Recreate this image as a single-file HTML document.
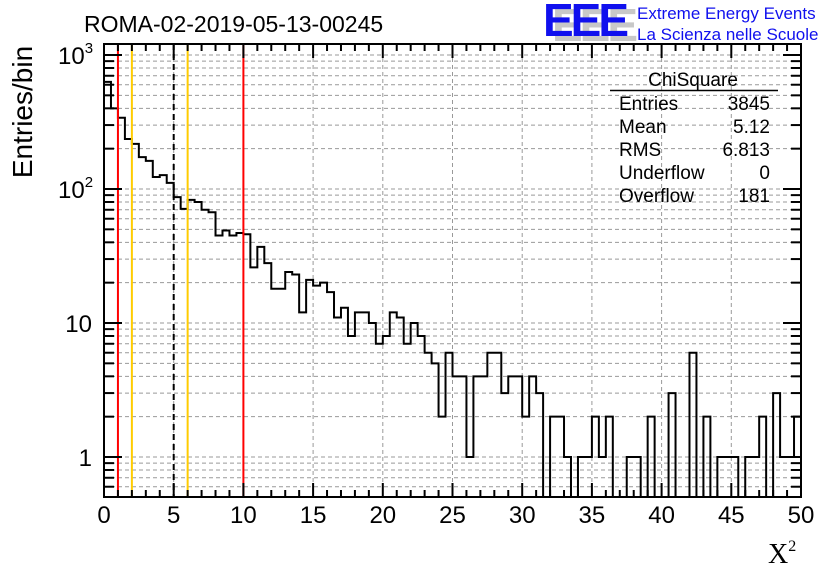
<!DOCTYPE html>
<html><head><meta charset="utf-8"><style>
body{margin:0;background:#fff}
svg{display:block;font-family:"Liberation Sans",Arial,sans-serif}
</style></head><body>
<svg id="c" width="836" height="572" xmlns="http://www.w3.org/2000/svg">
<rect width="836" height="572" fill="#fff"/>
<g id="grid"></g>
<g id="marks"></g>
<g id="axes"></g>
<text x="84" y="32" font-size="23">ROMA-02-2019-05-13-00245</text>
<g>
<text x="552" y="41" font-size="46" font-weight="bold" fill="#c8c8c8" letter-spacing="-3">EEE</text>
<text x="543" y="36" font-size="46" font-weight="bold" fill="#1010ee" letter-spacing="-3">EEE</text>
<text x="637" y="19" font-size="17" fill="#1010ee">Extreme Energy Events</text>
<text x="637" y="40" font-size="17" fill="#1010ee">La Scienza nelle Scuole</text>
</g>
<g font-size="19">
<text x="693" y="86" text-anchor="middle">ChiSquare</text>
<line x1="610" y1="90.5" x2="778" y2="90.5" stroke="#000" stroke-width="1.5"/>
<text x="619" y="110">Entries</text><text x="770" y="110" text-anchor="end">3845</text>
<text x="619" y="133">Mean</text><text x="770" y="133" text-anchor="end">5.12</text>
<text x="619" y="156">RMS</text><text x="770" y="156" text-anchor="end">6.813</text>
<text x="619" y="179">Underflow</text><text x="770" y="179" text-anchor="end">0</text>
<text x="619" y="202">Overflow</text><text x="770" y="202" text-anchor="end">181</text>
</g>
<text transform="translate(32,112) rotate(-90)" font-size="28" text-anchor="middle">Entries/bin</text>
<text x="768" y="563" font-size="28" font-family="Liberation Serif,serif">X<tspan font-size="16" dy="-12">2</tspan></text>
</svg>
<script>
const counts=[630,400,340,236,217,173,162,123,127,111,87,71,83,80,70,67,45,49,45,47,
46,26,37,28,18,18,24,23,12,21,19,20,17,11,13,8,12,12,10,7,
8,12,11,7,10,8,6,5,2,6,4,4,1,4,4,6,6,3,4,4,
2,4,3,0,2,2,1,0,1,1,2,1,2,0,0,1,1,0,2,0,
0,3,0,0,6,0,2,0,1,1,1,0,1,1,2,0,3,1,1,2];
const xTicks=[0,5,10,15,20,25,30,35,40,45,50];
const yTickLabels=["1","10","10³"];
const vLines=[{x:1,c:"#ff0000",d:""},{x:2,c:"#ffcc00",d:""},{x:5,c:"#000",d:"6,4"},{x:6,c:"#ffcc00",d:""},{x:10,c:"#ff0000",d:""}];
const L=104,R=801,T=44,B=497,binW=0.5;
const sx=v=>L+(R-L)*v/50;
const sy=v=>457-134*Math.log10(v);
const NS="http://www.w3.org/2000/svg";
function mk(tag,attrs,parent){const e=document.createElementNS(NS,tag);for(const k in attrs)e.setAttribute(k,attrs[k]);parent.appendChild(e);return e;}
const grid=document.getElementById('grid'),marks=document.getElementById('marks'),axes=document.getElementById('axes');
xTicks.forEach(t=>{if(t>0&&t<50){const g=mk('line',{x1:sx(t),x2:sx(t),y1:T,y2:B,stroke:'#999','stroke-dasharray':'4,3'},grid);

}});
for(let d=-1;d<=3;d++)for(let m=1;m<10;m++){const v=m*Math.pow(10,d);const y=sy(v);if(y<T||y>B)continue;
const g=mk('line',{x1:L,x2:R,y1:y,y2:y,stroke:'#999','stroke-dasharray':'4,3'},grid);


const tl=(m===1)?18:10;
const t1=mk('line',{x1:L,x2:L+tl,y1:y,y2:y,stroke:'#000','stroke-width':2},axes);


const t2=mk('line',{x1:R,x2:R-tl,y1:y,y2:y,stroke:'#000','stroke-width':2},axes);

}
let d=`M${L},${B}`;
counts.forEach((c,i)=>{const y=c>0?Math.max(sy(c),T):B;d+=` L${sx(i*binW)},${y} L${sx((i+1)*binW)},${y}`;});
d+=` L${R},${B}`;
const h=mk('path',{d:d,fill:'none',stroke:'#000','stroke-width':2},marks);


vLines.forEach(v=>{const l=mk('line',{x1:sx(v.x),x2:sx(v.x),y1:T,y2:B,stroke:v.c,'stroke-width':2,'stroke-dasharray':v.d},marks);

});
const f=mk('rect',{x:L,y:T,width:R-L,height:B-T,fill:'none',stroke:'#000','stroke-width':2},axes);


for(let v=0;v<=50;v+=1){const big=v%5===0;const x=sx(v);
const t=mk('line',{x1:x,x2:x,y1:B,y2:B-(big?14:7),stroke:'#000','stroke-width':2},axes);


const t2=mk('line',{x1:x,x2:x,y1:T,y2:T+(big?14:7),stroke:'#000','stroke-width':2},axes);

}
xTicks.forEach(t=>{const e=mk('text',{x:sx(t),y:523,'font-size':24,'text-anchor':'middle'},axes);e.textContent=t;

});
[[1,yTickLabels[0]],[10,yTickLabels[1]]].forEach(p=>{const e=mk('text',{x:92,y:sy(p[0])+9,'font-size':24,'text-anchor':'end'},axes);e.textContent=p[1];

});
[[100,"10","2"],[1000,"10","3"]].forEach(p=>{const e=mk('text',{x:58,y:sy(p[0])+9,'font-size':24},axes);e.textContent=p[1];
const s=mk('tspan',{'font-size':15,dy:-11},e);s.textContent=p[2];

});
</script>
</body></html>
